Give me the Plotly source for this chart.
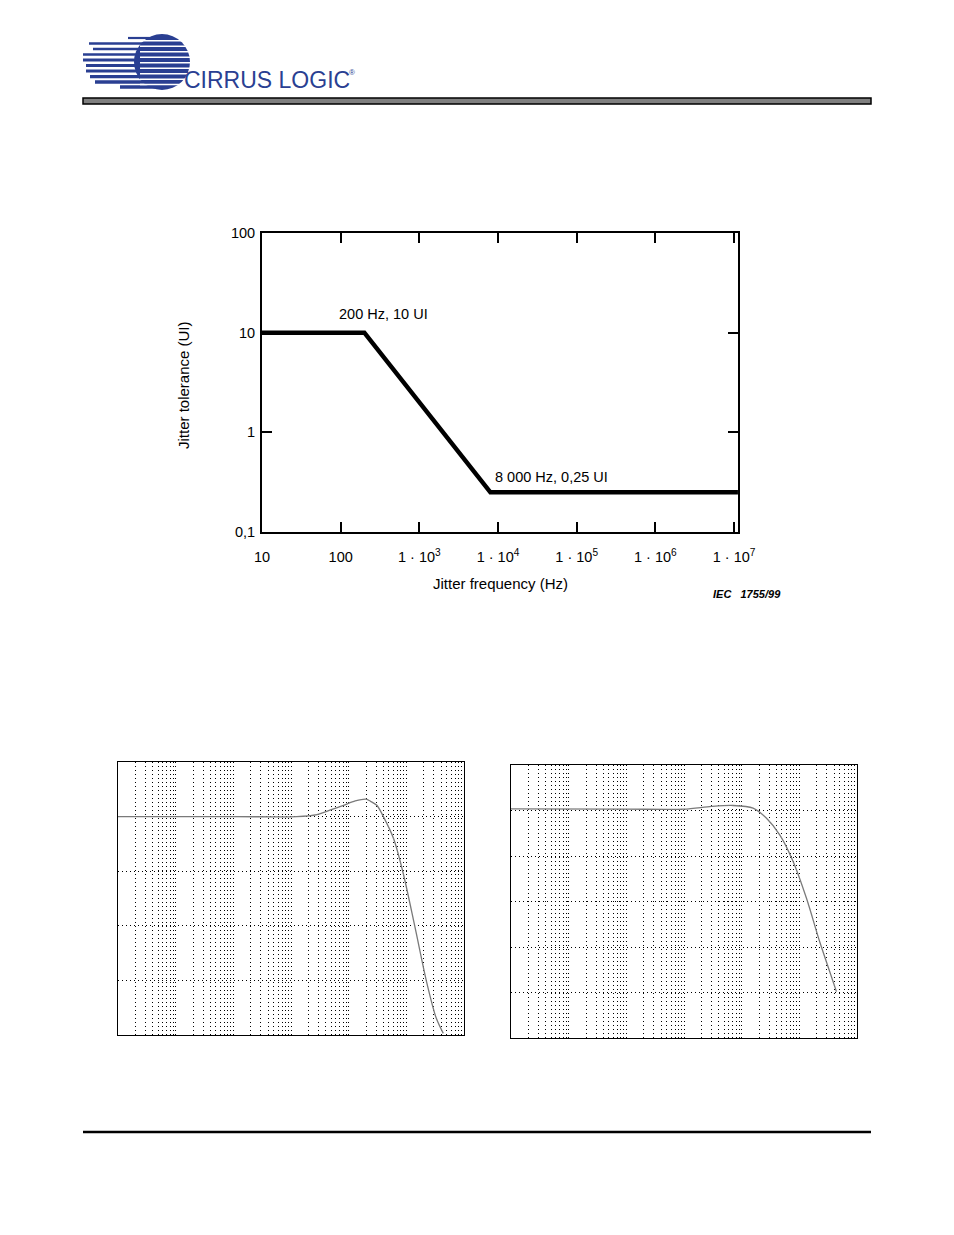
import plotly.graph_objects as go

# page body has an 8px default margin: the figure is sized so the page fits the window
OFF = 8
W, H = 954 - 2 * OFF, 1235 - 2 * OFF

def px(x):
    return (x - OFF) / W

def py(y):
    return 1 - (y - OFF) / H

# ---------------- data ----------------
# Top chart: jitter tolerance template
tol_freq = [10, 200, 8000, 1.12e7]
tol_ui = [10, 10, 0.25, 0.25]
tol_xticks = [10, 100, 1e3, 1e4, 1e5, 1e6, 1e7]
tol_xticktext = ["10", "100", "1 · 10<sup>3</sup>", "1 · 10<sup>4</sup>",
                 "1 · 10<sup>5</sup>", "1 · 10<sup>6</sup>", "1 · 10<sup>7</sup>"]
tol_yticks = [0.1, 1, 10, 100]
tol_yticktext = ["0,1", "1", "10", "100"]

# Bottom-left chart: transfer response (dB)
left_freq = [1, 100, 1260, 2820, 5000, 8130, 13000, 20000, 24000, 30800,
             40000, 60000, 87000, 141000, 225000, 330000, 437000]
left_db = [0, 0, 0, 0.37, 1.28, 2.07, 2.86, 3.2, 2.8, 2.07,
           0, -4.0, -10.1, -20.2, -30.3, -36.9, -39.7]

# Bottom-right chart: transfer response (dB)
right_freq = [1, 100, 1000, 3000, 7100, 15800, 27000, 46000, 78000,
              133000, 225000, 336000, 440000]
right_db = [0.37, 0.3, 0.3, 0.9, 1.1, 0.53, -1.7, -5.4, -11.2,
            -19.3, -28.8, -35.4, -39.8]

FONT = "Liberation Sans, Arial, sans-serif"
BLUE = "#2a3f92"

fig = go.Figure()

# ---------------- top chart ----------------
fig.add_trace(go.Scatter(x=tol_freq, y=tol_ui, mode="lines",
                         line=dict(color="black", width=4.5),
                         xaxis="x", yaxis="y", showlegend=False,
                         hoverinfo="skip"))

# ---------------- bottom charts ----------------
fig.add_trace(go.Scatter(x=left_freq, y=left_db, mode="lines",
                         line=dict(color="#7a7a7a", width=1.3, shape="spline",
                                   smoothing=0.8),
                         xaxis="x2", yaxis="y2", showlegend=False,
                         cliponaxis=True))
fig.add_trace(go.Scatter(x=right_freq, y=right_db, mode="lines",
                         line=dict(color="#7a7a7a", width=1.3, shape="spline",
                                   smoothing=0.8),
                         xaxis="x3", yaxis="y3", showlegend=False,
                         cliponaxis=True))

grid_common = dict(showgrid=True, gridcolor="black", gridwidth=1,
                   griddash="1px,3px", showticklabels=False, ticks="",
                   showline=True, linecolor="black", linewidth=1, mirror=True,
                   zeroline=False, fixedrange=True, automargin=False)

fig.update_layout(
    width=W, height=H, autosize=False,
    margin=dict(l=0, r=0, t=0, b=0, pad=0, autoexpand=False),
    paper_bgcolor="white", plot_bgcolor="white",
    font=dict(family=FONT, color="black", size=14.5),
    xaxis=dict(type="log", range=[1, 7.05], domain=[px(262), px(738)],
               anchor="y", tickvals=tol_xticks, ticktext=tol_xticktext,
               ticks="inside", ticklen=10, tickwidth=2, tickcolor="black",
               showline=True, linecolor="black", linewidth=2, mirror="ticks",
               showgrid=False, zeroline=False, ticklabelstandoff=11,
               automargin=False, tickfont=dict(size=14.5, family=FONT)),
    yaxis=dict(type="log", range=[-1, 2], domain=[py(532), py(233)],
               anchor="x", tickvals=tol_yticks, ticktext=tol_yticktext,
               ticks="inside", ticklen=10, tickwidth=2, tickcolor="black",
               showline=True, linecolor="black", linewidth=2, mirror="ticks",
               showgrid=False, zeroline=False, ticklabelstandoff=2,
               automargin=False, tickfont=dict(size=14.5, family=FONT)),
    xaxis2=dict(type="log", range=[0, 6], domain=[px(118), px(464)],
                anchor="y2", dtick="D1", **grid_common),
    yaxis2=dict(range=[-40, 10], domain=[py(1035), py(762)], anchor="x2",
                dtick=10, **grid_common),
    xaxis3=dict(type="log", range=[0, 6], domain=[px(511), px(857)],
                anchor="y3", dtick="D1", **grid_common),
    yaxis3=dict(range=[-50, 10], domain=[py(1038), py(765)], anchor="x3",
                dtick=10, **grid_common),
)

# ---------------- annotations ----------------
ann = []
ann.append(dict(text="200 Hz, 10 UI", x=px(337), y=py(314), xanchor="left",
                yanchor="middle", font=dict(size=14.5)))
ann.append(dict(text="8 000 Hz, 0,25 UI", x=px(493), y=py(477), xanchor="left",
                yanchor="middle", font=dict(size=14.5)))
ann.append(dict(text="Jitter frequency (Hz)", x=px(500), y=py(583),
                xanchor="center", yanchor="middle", font=dict(size=15)))
ann.append(dict(text="Jitter tolerance (UI)", x=px(184), y=py(385),
                xanchor="center", yanchor="middle", textangle=-90,
                font=dict(size=15)))
ann.append(dict(text="<b><i>IEC\u00a0\u00a0\u00a01755/99</i></b>", x=px(711),
                y=py(594), xanchor="left", yanchor="middle",
                font=dict(size=11)))
# logo text
ann.append(dict(text="CIRRUS LOGIC", x=px(182), y=py(80), xanchor="left",
                yanchor="middle",
                font=dict(size=23, color=BLUE,
                          family="Liberation Sans Narrow, Liberation Sans, Arial")))
ann.append(dict(text="®", x=px(347), y=py(73), xanchor="left",
                yanchor="middle", font=dict(size=8, color=BLUE)))
for a in ann:
    a.update(xref="paper", yref="paper", showarrow=False)
fig.update_layout(annotations=ann)

# ---------------- decorative shapes (page header / footer / logo) ----------------
shapes = []
# header bar
shapes.append(dict(type="rect", x0=px(83), x1=px(871), y0=py(104), y1=py(98),
                   fillcolor="#808080", line=dict(color="black", width=1.5)))
# footer rule
shapes.append(dict(type="line", x0=px(83), x1=px(871), y0=py(1132), y1=py(1132),
                   line=dict(color="black", width=2.5)))
# logo globe
shapes.append(dict(type="circle", x0=px(134), x1=px(190), y0=py(90), y1=py(34),
                   fillcolor=BLUE, line=dict(width=0)))
rows_y = [38, 43.5, 49, 54.5, 60, 65.5, 71, 76.5, 82, 87]
rows_x0 = [128, 89, 93, 83, 83, 86, 86, 90, 95, 120]
for i, (ry, rx) in enumerate(zip(rows_y, rows_x0)):
    shapes.append(dict(type="line", x0=px(rx), x1=px(160), y0=py(ry), y1=py(ry),
                       line=dict(color=BLUE, width=2.2 + 0.15 * i)))
for i in range(len(rows_y) - 1):
    gy = (rows_y[i] + rows_y[i + 1]) / 2
    shapes.append(dict(type="line", x0=px(140), x1=px(192), y0=py(gy), y1=py(gy),
                       line=dict(color="white", width=1.3)))
for s in shapes:
    s.update(xref="paper", yref="paper", layer="above")
fig.update_layout(shapes=shapes)

fig.write_html("out.html")
